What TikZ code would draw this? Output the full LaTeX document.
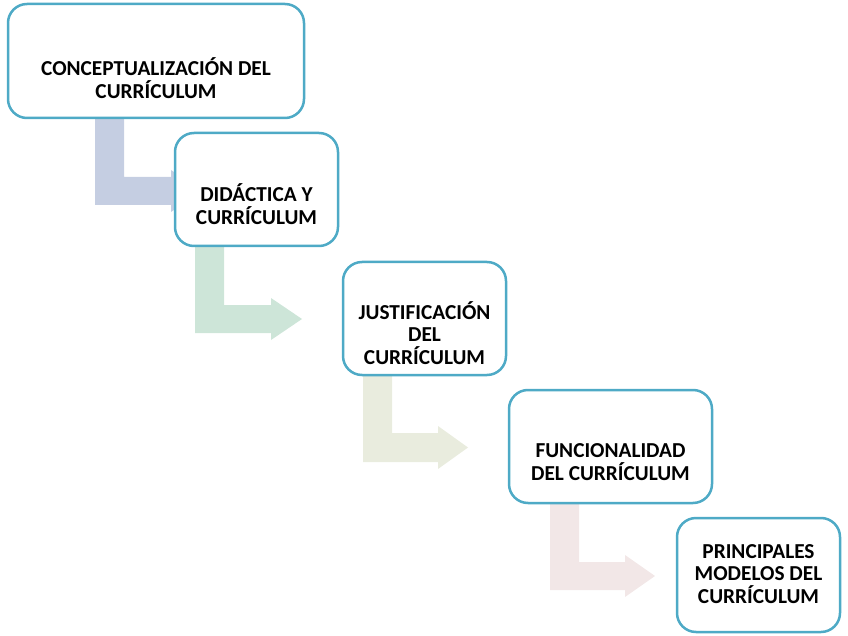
\documentclass[tikz,border=0pt]{standalone}
\usepackage{fontspec}
\setmainfont{Carlito}
\definecolor{bordc}{RGB}{78,170,198}
\definecolor{arA}{RGB}{197,206,226}
\definecolor{arB}{RGB}{205,229,216}
\definecolor{arC}{RGB}{233,236,222}
\definecolor{arD}{RGB}{242,231,231}
\begin{document}
\begin{tikzpicture}[x=1pt,y=-1pt,
  box/.style={draw=bordc,line width=2.5pt,fill=white,rounded corners=19pt,inner sep=0pt},
  lbl/.style={font=\bfseries\fontsize{21.3}{22.8}\selectfont,align=center,inner sep=0pt,text=black}]
\useasboundingbox (0,0) rectangle (848,636);
% bent arrows
\fill[arA] (95,110) -- (124,110) -- (124,177) -- (171,177) -- (171,170) -- (202,191) -- (171,212) -- (171,205) -- (95,205) -- cycle;
\fill[arB] (195,240) -- (224,240) -- (224,305) -- (271,305) -- (271,298) -- (302,319) -- (271,340) -- (271,333) -- (195,333) -- cycle;
\fill[arC] (363,369) -- (392,369) -- (392,433) -- (438,433) -- (438,426) -- (468,447.5) -- (438,469) -- (438,462) -- (363,462) -- cycle;
\fill[arD] (550,497) -- (579,497) -- (579,562) -- (625,562) -- (625,555) -- (655,576) -- (625,597) -- (625,590) -- (550,590) -- cycle;
% boxes
\node[box,minimum width=296pt,minimum height=114pt] (b1) at (156,61) {};
\node[box,minimum width=163pt,minimum height=113pt] (b2) at (256.5,189.5) {};
\node[box,minimum width=163pt,minimum height=113pt] (b3) at (424.5,318.5) {};
\node[box,minimum width=203pt,minimum height=113pt] (b4) at (610.5,446.5) {};
\node[box,minimum width=163pt,minimum height=114pt] (b5) at (758.5,575) {};
% texts
\node[lbl] (t1) at (156,78) {CONCEPTUALIZACIÓN DEL\\CURRÍCULUM};
\node[lbl] (t2) at (256.5,204.5) {DIDÁCTICA Y\\CURRÍCULUM};
\node[lbl] (t3) at (424.5,333) {JUSTIFICACIÓN\\DEL\\CURRÍCULUM};
\node[lbl] (t4) at (610.5,462) {FUNCIONALIDAD\\DEL CURRÍCULUM};
\node[lbl] (t5) at (758.5,574) {PRINCIPALES\\MODELOS DEL\\CURRÍCULUM};
\end{tikzpicture}
\end{document}
